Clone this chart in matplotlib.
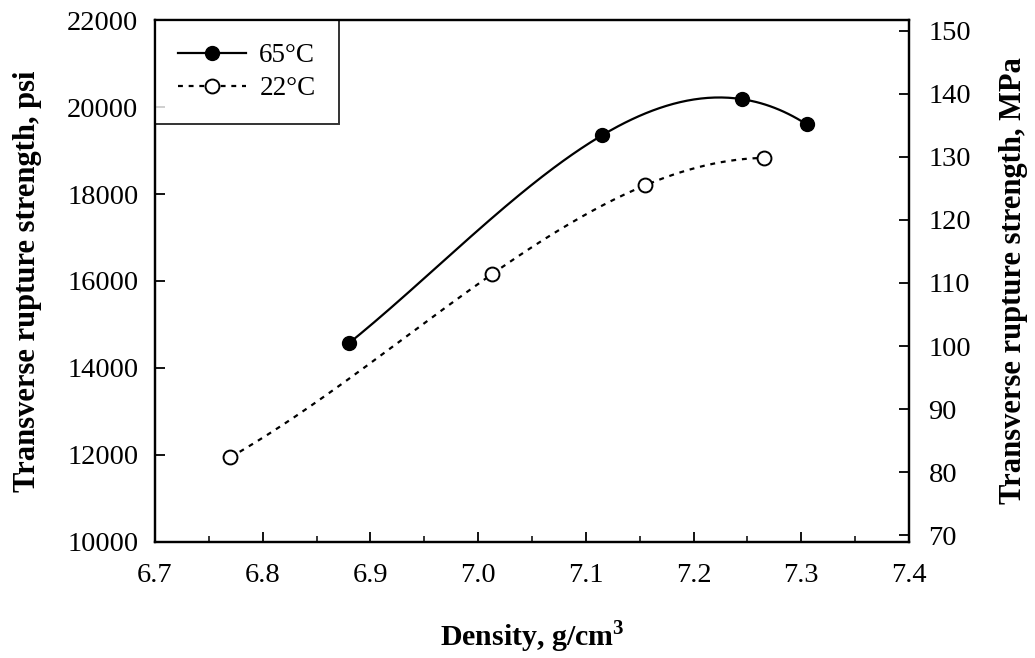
import numpy as np
import matplotlib
matplotlib.use("Agg")
import matplotlib.pyplot as plt
from matplotlib.ticker import MultipleLocator

plt.rcParams["font.family"] = ["Liberation Serif", "DejaVu Serif"]
plt.rcParams["mathtext.fontset"] = "custom"
plt.rcParams["mathtext.rm"] = "Liberation Serif"
plt.rcParams["mathtext.bf"] = "Liberation Serif:bold"

# transverse rupture strength (psi) vs sintered density (g/cm3)
density_65 = [6.88, 7.115, 7.245, 7.305]
trs_65 = [14570, 19350, 20180, 19600]
density_22 = [6.77, 7.013, 7.155, 7.265]
trs_22 = [11950, 16160, 18200, 18830]

x_ticks = [6.7, 6.8, 6.9, 7.0, 7.1, 7.2, 7.3, 7.4]
psi_ticks = [10000, 12000, 14000, 16000, 18000, 20000, 22000]
mpa_ticks = [70, 80, 90, 100, 110, 120, 130, 140, 150]
PSI_TO_MPA = 0.00689476


def smooth(xs, ys, n=200):
    # cubic through the measured points for the trend line
    c = np.polyfit(xs, ys, len(xs) - 1)
    xx = np.linspace(xs[0], xs[-1], n)
    return xx, np.polyval(c, xx)


fig = plt.figure(figsize=(10.35, 6.58), dpi=100)
ax = fig.add_axes([0.1498, 0.1763, 0.7285, 0.7933])

xx, yy = smooth(density_65, trs_65)
ax.plot(xx, yy, color="black", lw=1.6)
xx, yy = smooth(density_22, trs_22)
ax.plot(xx, yy, color="black", lw=1.6, dashes=(2.2, 2.6))

ax.plot(density_65, trs_65, "o", color="black", ms=10)
ax.plot(density_22, trs_22, "o", mfc="white", mec="black", mew=1.4, ms=10)

# legend handles
h65, = ax.plot([], [], "-o", color="black", lw=1.6, ms=10, label="65°C")
h22, = ax.plot([], [], "o", mfc="white", mec="black", mew=1.4, ms=10,
               color="black", lw=1.6, ls=(0, (2.2, 2.6)), label="22°C")
leg = ax.legend(handles=[h65, h22], loc="upper left", borderaxespad=0,
                fancybox=False, edgecolor="black", fontsize=19.5,
                handlelength=2.5, handletextpad=0.5, borderpad=0.85,
                labelspacing=0.3)
leg.get_frame().set_linewidth(1.4)

ax.set_xlim(6.7, 7.4)
ax.set_ylim(10000, 22000)
ax.set_xticks(x_ticks)
ax.set_xticklabels([f"{v:.1f}" for v in x_ticks])
ax.xaxis.set_minor_locator(MultipleLocator(0.05))
ax.set_yticks(psi_ticks)
ax.tick_params(axis="both", which="major", direction="in", length=7, width=1.3,
               labelsize=20.5)
ax.tick_params(axis="x", which="major", pad=15)
ax.tick_params(axis="y", which="major", pad=12, right=False)
ax.tick_params(axis="x", which="minor", direction="in", length=4, width=1.1)

ax2 = ax.twinx()
ax2.set_ylim(10000 * PSI_TO_MPA, 22000 * PSI_TO_MPA)
ax2.set_yticks(mpa_ticks)
ax2.tick_params(axis="y", direction="in", length=7, width=1.3,
                labelsize=20.5, pad=14)

for a in (ax, ax2):
    for s in a.spines.values():
        s.set_linewidth(1.6)

ax.set_xlabel(r"Density, g/cm$^{\mathbf{3}}$", fontsize=21.5, fontweight="bold",
              labelpad=22)
ax.set_ylabel("Transverse rupture strength, psi", fontsize=22,
              fontweight="bold", labelpad=18)
ax2.set_ylabel("Transverse rupture strength, MPa", fontsize=22,
               fontweight="bold", labelpad=20)

fig.savefig("out.png", dpi=100)
